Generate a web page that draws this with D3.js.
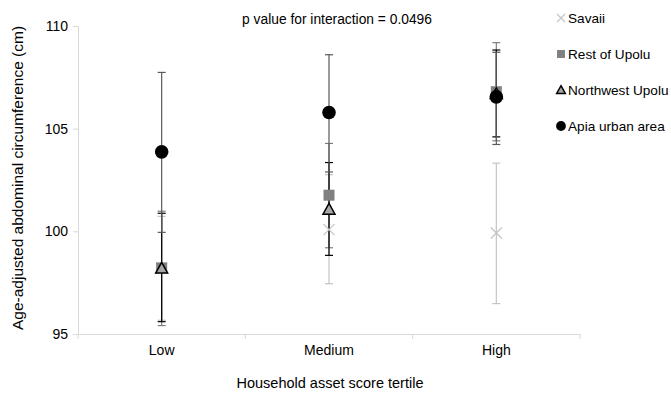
<!DOCTYPE html>
<html>
<head>
<meta charset="utf-8">
<script src="https://cdn.jsdelivr.net/npm/d3@7"></script>
<style>
  body { margin: 0; background: #fff; }
  text { font-family: "Liberation Sans", Arial, sans-serif; fill: #000; }
</style>
</head>
<body>
<div id="chart"></div>
<script>
// data
var categories = ["Low", "Medium", "High"];
var seriesNames = ["Savaii", "Rest of Upolu", "Northwest Upolu", "Apia urban area"];
var savaii     = [{v: 98.2,  lo: 95.67, hi: 100.73}, {v: 100.08, lo: 97.45, hi: 102.76}, {v: 99.92,  lo: 96.48,  hi: 103.32}];
var restUpolu  = [{v: 98.22, lo: 95.41, hi: 100.98}, {v: 101.76, lo: 99.2,  hi: 104.28}, {v: 106.8,  lo: 104.41, hi: 109.19}];
var northwest  = [{v: 98.2,  lo: 95.6,  hi: 100.88}, {v: 101.07, lo: 98.83, hi: 103.35}, {v: 106.7,  lo: 104.6,  hi: 108.83}];
var apia       = [{v: 103.87, lo: 99.95, hi: 107.74}, {v: 105.79, lo: 102.89, hi: 108.6}, {v: 106.55, lo: 104.23, hi: 108.72}];
var yTicks = [95, 100, 105, 110];

var allSeries = [savaii, restUpolu, northwest, apia];
var barColor = ["#c4c4c4", "#7f7f7f", "#000000", "#595959"];

var width = 671, height = 393;
var margin = {top: 26, left: 78, right: 91, bottom: 59};

var svg = d3.select("#chart").append("svg")
    .attr("width", width)
    .attr("height", height);

var x = d3.scaleBand().domain(categories).range([margin.left, width - margin.right]);
var y = d3.scaleLinear().domain([95, 110]).range([height - margin.bottom, margin.top]);

// y axis
var yAxis = svg.append("g")
    .attr("transform", "translate(" + margin.left + ",0)")
    .call(d3.axisLeft(y).tickValues(yTicks).tickSize(5).tickPadding(5));
yAxis.select(".domain").attr("stroke", "#d9d9d9");
yAxis.selectAll(".tick line").attr("stroke", "#d9d9d9");
yAxis.selectAll("text").style("font-size", "14px").attr("fill", "#000");

// x axis with ticks at category boundaries
var xAxis = svg.append("g")
    .attr("transform", "translate(0," + y(95) + ")")
    .call(d3.axisBottom(x).tickSize(0).tickPadding(11));
xAxis.select(".domain").attr("stroke", "#d9d9d9");
xAxis.selectAll("text").style("font-size", "14px").attr("fill", "#000");
xAxis.selectAll(".bound").data(categories.concat(["end"])).enter()
    .append("line")
    .attr("x1", function(d, i) { return margin.left + i * x.bandwidth(); })
    .attr("x2", function(d, i) { return margin.left + i * x.bandwidth(); })
    .attr("y1", 0).attr("y2", 5)
    .attr("stroke", "#d9d9d9");

// error bars
allSeries.forEach(function(s, k) {
  var g = svg.append("g");
  s.forEach(function(d, i) {
    var cx = x(categories[i]) + x.bandwidth() / 2;
    g.append("line").attr("x1", cx).attr("x2", cx)
      .attr("y1", y(d.lo)).attr("y2", y(d.hi))
      .attr("stroke", barColor[k]).attr("stroke-width", 1.2);
    [d.lo, d.hi].forEach(function(e) {
      g.append("line").attr("x1", cx - 4).attr("x2", cx + 4)
        .attr("y1", y(e)).attr("y2", y(e))
        .attr("stroke", barColor[k]).attr("stroke-width", 1.2);
    });
  });
});

// markers
function drawMarker(g, k, cx, cy, scale) {
  scale = scale || 1;
  if (k === 0) {
    var r = 5.5 * scale;
    g.append("path")
      .attr("d", "M" + (cx - r) + "," + (cy - r) + "L" + (cx + r) + "," + (cy + r) +
                 "M" + (cx - r) + "," + (cy + r) + "L" + (cx + r) + "," + (cy - r))
      .attr("stroke", "#c4c4c4").attr("stroke-width", 1.2).attr("fill", "none");
  } else if (k === 1) {
    var s = 11 * scale;
    g.append("rect").attr("x", cx - s / 2).attr("y", cy - s / 2)
      .attr("width", s).attr("height", s).attr("fill", "#808080");
  } else if (k === 2) {
    var h = 6 * scale;
    g.append("path")
      .attr("d", "M" + cx + "," + (cy - h) + "L" + (cx + h) + "," + (cy + h * 0.8) + "L" + (cx - h) + "," + (cy + h * 0.8) + "Z")
      .attr("fill", "#a6a6a6").attr("stroke", "#000").attr("stroke-width", 1.5);
  } else {
    g.append("circle").attr("cx", cx).attr("cy", cy).attr("r", 6.8 * scale).attr("fill", "#000");
  }
}

allSeries.forEach(function(s, k) {
  var g = svg.append("g");
  s.forEach(function(d, i) {
    drawMarker(g, k, x(categories[i]) + x.bandwidth() / 2, y(d.v));
  });
});

// legend
var legend = svg.append("g");
seriesNames.forEach(function(name, k) {
  var ly = 18 + k * 36;
  drawMarker(legend, k, 561, ly, 0.72);
  legend.append("text").attr("x", 568).attr("y", ly + 5)
    .style("font-size", "13.6px").text(name);
});

// title
svg.append("text").attr("x", 337).attr("y", 24)
  .attr("text-anchor", "middle").style("font-size", "13.8px")
  .text("p value for interaction = 0.0496");

// axis titles
svg.append("text")
  .attr("transform", "translate(23,178) rotate(-90)")
  .attr("text-anchor", "middle").style("font-size", "15.5px")
  .text("Age-adjusted abdominal circumference (cm)");

svg.append("text").attr("x", 330).attr("y", 388)
  .attr("text-anchor", "middle").style("font-size", "14.5px")
  .text("Household asset score tertile");
</script>
</body>
</html>
